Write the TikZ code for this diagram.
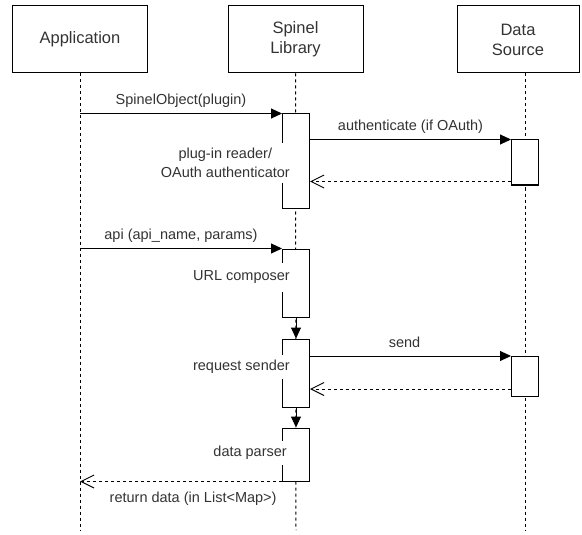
\documentclass[tikz,border=0pt]{standalone}
\usepackage{fontspec}
\setmainfont{Liberation Sans}
\usetikzlibrary{arrows.meta}

\begin{document}
\begin{tikzpicture}[x=1pt, y=-1pt,
    header/.style={draw, rectangle, line width=1pt, minimum height=67pt, align=center,
        text=black!80, font=\fontsize{16.5}{20}\selectfont},
    act/.style={draw, rectangle, fill=white, line width=1pt, minimum width=27pt},
    actlabel/.style={fill=white, align=center, anchor=east, inner xsep=1pt, inner ysep=5pt,
        text=black!80, font=\fontsize{14.5}{19}\selectfont},
    msglabel/.style={text=black!80, inner sep=2pt, text height=10.5pt, text depth=3pt,
        font=\fontsize{14.5}{17}\selectfont},
    lifeline/.style={line width=1pt, dash pattern=on 3pt off 3pt},
    msg/.style={line width=1pt, -{Triangle[length=11pt,width=10pt]}},
    ret/.style={line width=1pt, dash pattern=on 3pt off 3pt,
        -{Straight Barb[length=13pt,width=13pt,line width=1pt]}}]
    \useasboundingbox (0,0) rectangle (582,535);

    % Nodes
    \node (app) [header, minimum width=135pt] at (80,39.5) {Application};
    \node (lib) [header, minimum width=135pt] at (295.5,39.5) {Spinel\\Library};
    \node (src) [header, minimum width=122pt] at (518,39.5) {Data\\Source};

    \coordinate (appEnd) at (80,530);
    \coordinate (libEnd) at (296,530);
    \coordinate (srcEnd) at (525,530);

    % Lifelines
    \draw[lifeline] (app.south) -- (appEnd);
    \draw[lifeline] (lib.south) -- (libEnd);
    \draw[lifeline] (src.south -| srcEnd) -- (srcEnd);

    % Activations
    \node (plugin) [act, minimum height=94pt] at (296,161) {};
    \node (compose) [act, minimum height=68pt] at (296,283) {};
    \node (sender) [act, minimum height=68pt] at (296,373) {};
    \node (parser) [act, minimum height=53pt] at (296,454.5) {};
    \node (auth) [act, minimum height=45pt] at (525,162.5) {};
    \node (fetch) [act, minimum height=40pt] at (525,376.5) {};

    \node (pluginLbl) [actlabel] at (291,163) {plug-in reader/\\OAuth authenticator};
    \node (composeLbl) [actlabel, inner ysep=8pt] at (291,277.5) {URL composer};
    \node (senderLbl) [actlabel] at (291,367) {request sender};
    \node (parserLbl) [actlabel] at (288,453) {data parser};

    \coordinate (authRet) at ([yshift=4pt]auth.south west);
    \coordinate (fetchRet) at ([yshift=8pt]fetch.south west);

    % Arrows
    \draw[msg] (app |- plugin.north) -- node[msglabel, above=3pt] {SpinelObject(plugin)} (plugin.north west);
    \draw[msg] (plugin.east |- auth.north) -- node[msglabel, above=3pt] {authenticate (if OAuth)} (auth.north west);
    \draw[ret] (authRet) -- (authRet -| plugin.east);
    \draw[msg] (app |- compose.north) -- node[msglabel, above=3pt] {api (api\_name, params)} (compose.north west);
    \draw[msg] (compose) -- (sender);
    \draw[msg] (sender.east |- fetch.north) -- node[msglabel, above=3pt, pos=0.47] {send} (fetch.north west);
    \draw[ret] (fetchRet) -- (fetchRet -| sender.east);
    \draw[msg] (sender) -- (parser);
    \draw[ret] (parser.south west) -- node[msglabel, below=8pt, pos=0.44] {return data (in List<Map>)} (parser.south west -| app);
\end{tikzpicture}
\end{document}
